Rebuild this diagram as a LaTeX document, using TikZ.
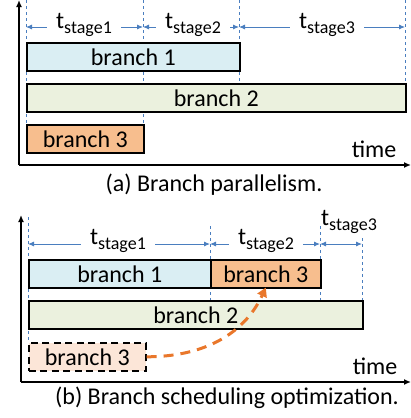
\documentclass[tikz,border=0pt]{standalone}
\usepackage{fontspec}
\setmainfont{Carlito}
\usetikzlibrary{arrows.meta}
\definecolor{brone}{HTML}{DAEEF3}
\definecolor{brtwo}{HTML}{EBF1DE}
\definecolor{brthree}{HTML}{F7BE8E}
\definecolor{brghost}{HTML}{FCE6D8}
\definecolor{dimblue}{HTML}{4A7EBF}
\definecolor{moveorange}{HTML}{E9772B}
\newcommand{\tsub}[1]{\raisebox{-5pt}{\fontsize{18}{18}\selectfont #1}}
\begin{document}
\begin{tikzpicture}[x=1pt, y=-1pt,
                    bar/.style = {draw = black,
                                  line width = 1.6pt,
                                  inner sep = 0pt,
                                  minimum height = 28pt,
                                  anchor = north west,
                                  font = \fontsize{24}{24}\selectfont},
                    axis/.style = {line width = 1.4pt, -{Latex[length=7pt,width=6pt]}},
                    guide/.style = {dimblue, dashed, line width = 0.6pt},
                    dimline/.style = {dimblue, line width = 0.9pt,
                                      {Latex[length=6pt,width=5pt]}-{Latex[length=6pt,width=5pt]}},
                    tlabel/.style = {fill = white, inner xsep = 9pt, inner ysep = 1pt,
                                     anchor = base, font = \fontsize{24}{24}\selectfont},
                    txt/.style = {anchor = base, font = \fontsize{24}{24}\selectfont}]
	\useasboundingbox (0,0) rectangle (411,418);
	% (a) branch parallelism
	\coordinate (ao) at (19,165);
	\coordinate (ay) at (19,0);
	\coordinate (ax) at (411,165);
	\draw[guide] (26,0) -- (26,152);
	\draw[guide] (143,0) -- (143,124);
	\draw[guide] (239,0) -- (239,83);
	\draw[guide] (405,0) -- (405,83);
	\node[bar, fill=brone, minimum width=213pt] (a1) at (26,42) {branch 1};
	\node[bar, fill=brtwo, minimum width=379pt] (a2) at (26,83) {branch 2};
	\node[bar, fill=brthree, minimum width=117pt] (a3) at (26,124) {branch 3};
	\coordinate (as0) at (26,27);
	\coordinate (as1) at (143,27);
	\coordinate (as2) at (239,27);
	\coordinate (as3) at (405,27);
	\draw[dimline] (as0) -- (as1);
	\draw[dimline] (as1) -- (as2);
	\draw[dimline] (as2) -- (as3);
	\node[tlabel] (at1) at (84,28) {t\tsub{stage1}};
	\node[tlabel] (at2) at (193,28) {t\tsub{stage2}};
	\node[tlabel] (at3) at (327,28) {t\tsub{stage3}};
	\draw[axis] (ao) -- (ay);
	\draw[axis] (ao) -- (ax);
	\node[txt] (atime) at (374,157) {time};
	\node[txt] (acap) at (214,191) {(a) Branch parallelism.};
	% (b) branch scheduling optimization
	\coordinate (bo) at (21,382);
	\coordinate (by) at (21,215);
	\coordinate (bx) at (411,382);
	\draw[guide] (28,217) -- (28,342);
	\draw[guide] (210,226) -- (210,300);
	\draw[guide] (320,226) -- (320,300);
	\draw[guide] (362,238) -- (362,300);
	\node[bar, fill=brone, minimum width=182pt] (b1) at (28,259) {branch 1};
	\node[bar, fill=brthree, minimum width=110pt] (b3) at (210,259) {branch 3};
	\node[bar, fill=brtwo, minimum width=334pt] (b2) at (28,300) {branch 2};
	\node[bar, fill=brghost, dash pattern=on 7pt off 4.5pt, minimum width=117pt] (b3old) at (28,342) {branch 3};
	\coordinate (bs0) at (28,244);
	\coordinate (bs1) at (210,244);
	\coordinate (bs2) at (320,244);
	\coordinate (bs3) at (362,244);
	\draw[dimline] (bs0) -- (bs1);
	\draw[dimline] (bs1) -- (bs2);
	\draw[dimline] (bs2) -- (bs3);
	\node[tlabel] (bt1) at (118,244) {t\tsub{stage1}};
	\node[tlabel] (bt2) at (266,244) {t\tsub{stage2}};
	\node[tlabel, fill=none] (bt3) at (349,225) {t\tsub{stage3}};
	\draw[moveorange, line width=3pt, dash pattern=on 10pt off 7pt,
	      -{Triangle[length=9pt,width=10pt]}]
	      (b3old.east) to[out=0, in=245] ([yshift=1pt]b3.south);
	\draw[axis] (bo) -- (by);
	\draw[axis] (bo) -- (bx);
	\node[txt] (btime) at (375,374) {time};
	\node[txt] (bcap) at (227,404) {(b) Branch scheduling optimization.};
\end{tikzpicture}
\end{document}
